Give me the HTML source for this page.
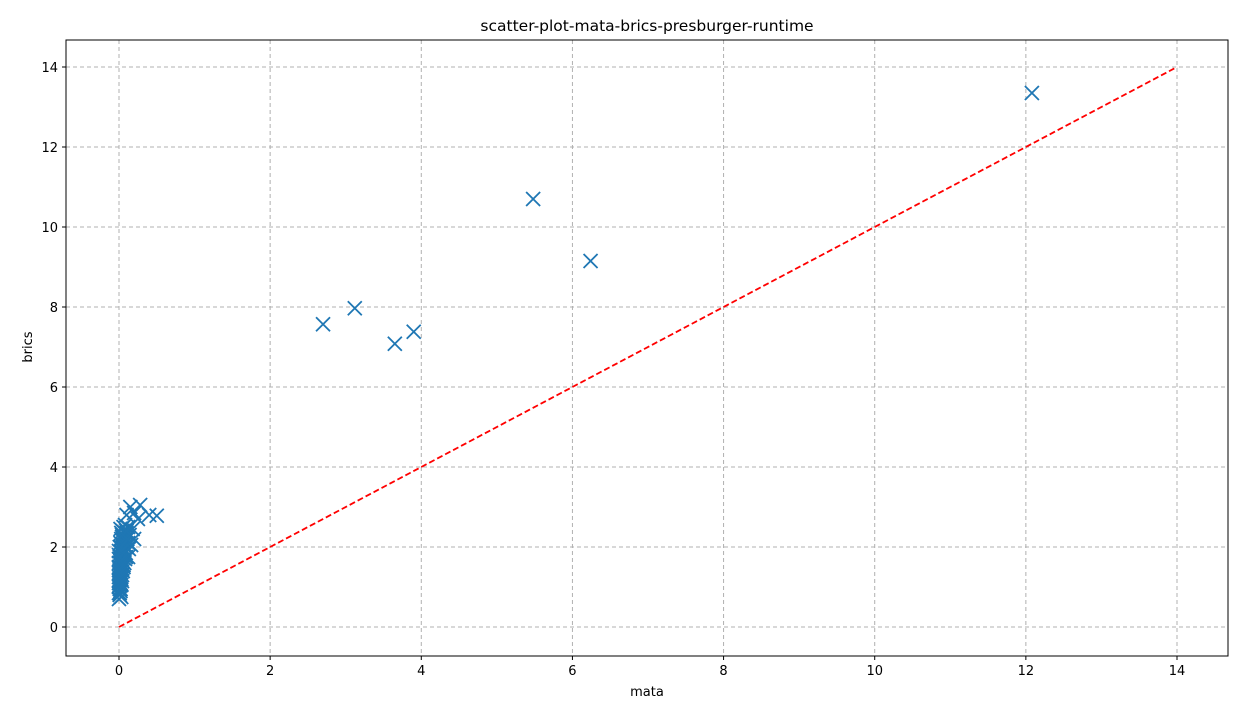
<!DOCTYPE html>
<html><head><meta charset="utf-8"><style>
body{margin:0;background:#fff;font-family:"Liberation Sans","DejaVu Sans",sans-serif;}
svg text{font-family:"DejaVu Sans","Liberation Sans",sans-serif;}
</style></head><body>
<svg id="chart" width="1248" height="719" xmlns="http://www.w3.org/2000/svg"></svg>
<script>
const xTicks=[0,2,4,6,8,10,12,14];
const yTicks=[0,2,4,6,8,10,12,14];
const mataVals=[12.08,5.48,6.24,2.7,3.12,3.65,3.9,0.1,0.15,0.2,0.28,0.25,0.4,0.5,0.08,0.12,0.18,0.06,0.1,0.14,0.2,0.05,0.08,0.12,0.16,0.04,0.07,0.1,0.13,0.03,0.06,0.09,0.12,0.02,0.05,0.08,0.01,0.04,0.07,0.0,0.03,0.06,0.0,0.02,0.05,0.0,0.01,0.04,0.0,0.01,0.03,0.0,0.01,0.02,0.0,0.01,0.0,0.01,0.0,0.01,0.0,0.02,0.0,0.01,0.03,
0.02,0.03,0.04,0.05,0.06,0.07,0.08,0.09,0.1,0.11,0.02,0.03,0.04,0.05,0.06,0.01,0.02,0.03,0.04,0.01,0.02,0.03,0.0,0.01,0.02,0.0,0.01,0.02,0.03,0.04];
const bricsVals=[13.35,10.7,9.15,7.57,7.97,7.08,7.38,2.8,3.0,2.85,3.05,2.7,2.8,2.78,2.55,2.5,2.45,2.5,2.35,2.3,2.2,2.4,2.25,2.1,2.05,2.3,2.15,2.0,1.95,2.2,2.05,1.85,1.75,2.1,1.95,1.7,2.0,1.8,1.6,1.9,1.7,1.5,1.8,1.6,1.4,1.7,1.5,1.3,1.6,1.4,1.2,1.5,1.3,1.1,1.35,1.2,1.25,1.05,1.1,0.95,1.0,0.9,0.85,0.8,0.75,
2.45,2.35,2.25,2.15,2.05,1.95,1.85,1.75,2.4,2.2,2.0,1.9,1.8,1.65,1.55,1.75,1.65,1.55,1.45,1.45,1.35,1.25,1.15,1.05,0.95,0.7,0.85,0.95,1.05,1.15];
const refLine=[0,14];
const S="http://www.w3.org/2000/svg",svg=document.getElementById('chart');
const L=66,R=1228,T=40,B=656;
const xs=v=>119+v*(1177-119)/14, ys=v=>627-v*(627-67)/14;
function mk(t,a,p){const e=document.createElementNS(S,t);for(const k in a)e.setAttribute(k,a[k]);(p||svg).appendChild(e);return e;}
xTicks.forEach(t=>{const g=mk('line',{x1:xs(t),x2:xs(t),y1:T,y2:B,stroke:'#b0b0b0','stroke-dasharray':'4,3','stroke-width':1});

const tk=mk('line',{x1:xs(t),x2:xs(t),y1:B,y2:B+4,stroke:'#000'});
const tx=mk('text',{x:xs(t),y:B+19,'text-anchor':'middle','font-size':13});tx.textContent=t;
});
yTicks.forEach(t=>{const g=mk('line',{x1:L,x2:R,y1:ys(t),y2:ys(t),stroke:'#b0b0b0','stroke-dasharray':'4,3','stroke-width':1});

const tk=mk('line',{x1:L-4,x2:L,y1:ys(t),y2:ys(t),stroke:'#000'});
const tx=mk('text',{x:L-8,y:ys(t)+5,'text-anchor':'end','font-size':13});tx.textContent=t;
});
const ln=mk('line',{x1:xs(refLine[0]),y1:ys(refLine[0]),x2:xs(refLine[1]),y2:ys(refLine[1]),stroke:'#ff0000','stroke-width':1.8,'stroke-dasharray':'6,3'});

mataVals.forEach((m,i)=>{const x=xs(m),y=ys(bricsVals[i]),r=7;
const p=mk('path',{d:`M${x-r},${y-r}L${x+r},${y+r}M${x-r},${y+r}L${x+r},${y-r}`,stroke:'#1f77b4','stroke-width':1.8,fill:'none'});
});
const fr=mk('rect',{x:L,y:T,width:R-L,height:B-T,fill:'none',stroke:'#000','stroke-width':1});

const ti=mk('text',{x:647,y:31,'text-anchor':'middle','font-size':15.5});ti.textContent='scatter-plot-mata-brics-presburger-runtime';

const xl=mk('text',{x:647,y:696,'text-anchor':'middle','font-size':13});xl.textContent='mata';

const yl=mk('text',{x:32,y:347,'text-anchor':'middle','font-size':13,transform:'rotate(-90 32 347)'});yl.textContent='brics';

</script>
</body></html>
